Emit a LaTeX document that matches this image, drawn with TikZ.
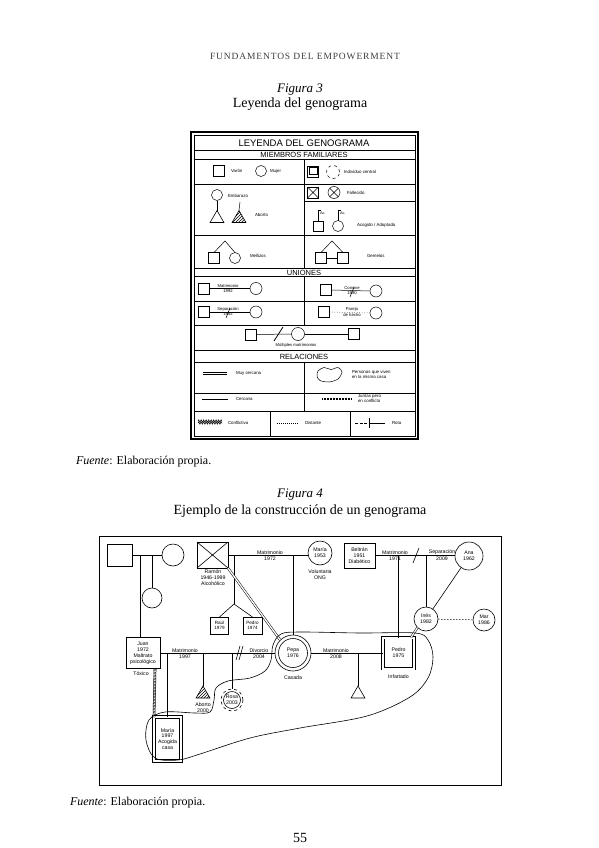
\documentclass[tikz,border=0pt]{standalone}
\usepackage{fontspec}
\setmainfont{Liberation Serif}
\setsansfont{Liberation Sans}
\usetikzlibrary{patterns,shapes.geometric,decorations.pathmorphing}
\begin{document}
\begin{tikzpicture}[x=1pt,y=-1pt,
  every node/.style={inner sep=0pt, outer sep=0pt},
  ln/.style={line width=0.5pt},
  lt/.style={font=\sffamily\fontsize{4.4}{5}\selectfont, align=left, anchor=west},
  lh/.style={font=\sffamily\fontsize{7.5}{8}\selectfont},
  sq/.style={draw, line width=0.5pt, minimum size=11pt},
  ci/.style={draw, circle, line width=0.5pt, minimum size=11pt},
  ft/.style={font=\sffamily\fontsize{5.2}{5.9}\selectfont, align=center},
  fl/.style={line width=0.6pt},
  fsq/.style={draw, line width=0.6pt, font=\sffamily\fontsize{5.2}{5.9}\selectfont, align=center},
  fci/.style={draw, circle, line width=0.6pt, font=\sffamily\fontsize{5.2}{5.9}\selectfont, align=center},
  tri/.style={draw, regular polygon, regular polygon sides=3, line width=0.6pt, minimum size=16pt},
  serif/.style={font=\fontsize{14}{16}\selectfont},
]
\useasboundingbox (0,0) rectangle (599,848);
\fill[white] (0,0) rectangle (599,848);

% ---------- page header and titles ----------
\node[font=\fontsize{9.5}{10}\selectfont\addfontfeature{LetterSpace=9}, text=black!75] (hdr) at (305,56) {FUNDAMENTOS DEL EMPOWERMENT};
\node[font=\fontsize{13}{14}\selectfont\itshape] (f3a) at (300,90) {Figura 3};
\node[serif] (f3b) at (300,104) {Leyenda del genograma};

% ---------- legend ----------
\draw[line width=1.1pt] (191,132) rectangle (418,439);
\draw[ln] (194,135) rectangle (415,436);
\node[font=\sffamily\fontsize{9.5}{10}\selectfont] (lgt) at (304,143) {LEYENDA DEL GENOGRAMA};
\draw[ln] (194,150) -- (415,150);
\node[lh] (hmf) at (304,155) {MIEMBROS FAMILIARES};
\draw[ln] (194,159.5) -- (415,159.5);
\draw[ln] (194,184) -- (415,184);
\draw[ln] (304,201) -- (415,201);
\draw[ln] (194,235) -- (415,235);
\draw[ln] (194,268) -- (415,268);
\node[lh] (hun) at (304,272.5) {UNIONES};
\draw[ln] (194,276.5) -- (415,276.5);
\draw[ln] (194,301) -- (415,301);
\draw[ln] (194,325) -- (415,325);
\draw[ln] (194,350) -- (415,350);
\node[lh] (hre) at (304,356.5) {RELACIONES};
\draw[ln] (194,362) -- (415,362);
\draw[ln] (194,393) -- (415,393);
\draw[ln] (194,411) -- (415,411);
\draw[ln] (304,159.5) -- (304,268);
\draw[ln] (304,276.5) -- (304,325);
\draw[ln] (304,362) -- (304,411);
\draw[ln] (270,411) -- (270,436);
\draw[ln] (350,411) -- (350,436);

% row: varon / mujer / individuo central
\node[sq] (lvar) at (219,171) {};
\node[lt] (tvar) at (231,171) {Varón};
\node[ci] (lmuj) at (261,171) {};
\node[lt] (tmuj) at (270,171) {Mujer};
\node[sq] (lind) at (313,171.5) {};
\node[draw, line width=0.5pt, minimum width=7.5pt, minimum height=7pt] (lindi) at (313,170.5) {};
\node[ci, dashed, minimum size=13pt] (lindc) at (333,172) {};
\node[lt] (tind) at (344,172) {Individuo central};

% embarazo / aborto
\node[ci] (lemb) at (217,195) {};
\node[tri, minimum size=16pt] (lembt) at (217,218.5) {};
\draw[ln] (lemb.south) -- (lembt.corner 1);
\node[lt] (temb) at (228,196) {Embarazo};
\node[tri, minimum size=16pt, pattern=north east lines] (labo) at (239,218.5) {};
\coordinate (laboc) at (240,202);
\draw[ln] (labo.corner 1) -- (laboc);
\node[lt] (tabo) at (255,215) {Aborto};

% fallecido
\node[sq] (lfal) at (313,192.5) {};
\draw[ln] (lfal.north west) -- (lfal.south east) (lfal.north east) -- (lfal.south west);
\node[ci, minimum size=12pt] (lfalc) at (334,192.5) {};
\draw[ln] (lfalc.north west) -- (lfalc.south east) (lfalc.north east) -- (lfalc.south west);
\node[lt] (tfal) at (347,192.5) {Fallecido};

% adopcion
\node[sq, minimum size=10.5pt] (lado) at (318,226) {};
\node[ci] (ladoc) at (338,226) {};
\coordinate (lado1) at (318,210);
\coordinate (lado2) at (338,210);
\draw[ln] (lado.north) -- (lado1) -- ++(3,0);
\draw[ln] (ladoc.north) -- (lado2) -- ++(3,0);
\node[lt, font=\sffamily\fontsize{3.8}{4}\selectfont] (tac1) at (320,213.5) {Ac.};
\node[lt, font=\sffamily\fontsize{3.8}{4}\selectfont] (tac2) at (340,213.5) {Ac.};
\node[lt] (tado) at (357,225) {Acogido / Adoptado};

% mellizos
\node[sq] (lmel1) at (214,258) {};
\node[ci] (lmel2) at (235,258) {};
\coordinate (lmela) at (225,241);
\draw[ln] (lmel1.north) -- (lmela) -- (lmel2.north);
\node[lt] (tmel) at (250,256) {Mellizos};

% gemelos
\node[sq] (lgem1) at (321,258) {};
\node[sq] (lgem2) at (343,258) {};
\coordinate (lgema) at (332,241);
\draw[ln] (lgem1.north) -- (lgema) -- (lgem2.north);
\draw[ln] (lgem1.east) -- (lgem2.west);
\node[lt] (tgem) at (367,256) {Gemelos};

% matrimonio
\node[sq] (lmat1) at (204,288.5) {};
\node[ci, minimum size=12pt] (lmat2) at (256,288.5) {};
\draw[ln] (lmat1.east) -- (lmat2.west);
\node[font=\sffamily\fontsize{4.2}{5}\selectfont, anchor=south] (tmat1) at (228,288) {Matrimonio};
\node[font=\sffamily\fontsize{4.2}{5}\selectfont, anchor=north] (tmat2) at (228,289.5) {1992};

% convive
\node[sq] (lcoh1) at (326,290) {};
\node[ci, minimum size=12pt] (lcoh2) at (376,291) {};
\draw[ln] (lcoh1.east) -- (lcoh2.west);
\node[font=\sffamily\fontsize{4.2}{5}\selectfont, anchor=south] (tcoh1) at (352,289.5) {Convive};
\node[font=\sffamily\fontsize{4.2}{5}\selectfont, anchor=north] (tcoh2) at (352,291.5) {1990};
\coordinate (lcohs1) at (350,297);
\coordinate (lcohs2) at (354,287);
\draw[ln] (lcohs1) -- (lcohs2);

% separacion
\node[sq] (lsep1) at (204,312) {};
\node[ci, minimum size=12pt] (lsep2) at (256,312) {};
\draw[ln] (lsep1.east) -- (lsep2.west);
\node[font=\sffamily\fontsize{4.2}{5}\selectfont, anchor=south] (tsep1) at (228,311.5) {Separación};
\node[font=\sffamily\fontsize{4.2}{5}\selectfont, anchor=north] (tsep2) at (228,313) {1992};
\coordinate (lseps1) at (226,318);
\coordinate (lseps2) at (230,308);
\draw[ln] (lseps1) -- (lseps2);

% pareja de hecho
\node[sq] (lpar1) at (324,312) {};
\node[ci, minimum size=12pt] (lpar2) at (376,313) {};
\draw[ln, dotted] (lpar1.east) -- (lpar2.west);
\node[font=\sffamily\fontsize{4.2}{5}\selectfont, anchor=south] (tpar1) at (352,311.5) {Pareja};
\node[font=\sffamily\fontsize{4.2}{5}\selectfont, anchor=north] (tpar2) at (352,313.5) {de hecho};

% multiples matrimonios
\node[sq] (lmul1) at (251,334.5) {};
\node[ci, minimum size=13pt] (lmul2) at (298,334) {};
\node[sq] (lmul3) at (354,334) {};
\draw[ln] (lmul1.east) -- (lmul2.west);
\draw[ln] (lmul2.east) -- (lmul3.west);
\coordinate (lmuls1) at (274,341);
\coordinate (lmuls2) at (283,327);
\draw[line width=0.8pt] (lmuls1) -- (lmuls2);
\node[font=\sffamily\fontsize{4.2}{5}\selectfont] (tmul) at (296,345) {Múltiples matrimonios};

% relaciones
\coordinate (lmc1) at (203,372);
\coordinate (lmc2) at (227,372);
\draw[ln] (lmc1) -- (lmc2);
\draw[ln] ([yshift=-2.2pt]lmc1) -- ([yshift=-2.2pt]lmc2);
\node[lt] (tmc) at (236,373.5) {Muy cercana};
\draw[ln] plot[smooth cycle] coordinates {(318,371) (324,367.5) (331,369.5) (338,367.5) (342,372) (338,379) (329,382) (320,380.5) (317,376)};
\node[lt] (tviv) at (352,374) {Personas que viven\\en la misma casa};

\coordinate (lce1) at (202,399);
\coordinate (lce2) at (228,399);
\draw[ln] (lce1) -- (lce2);
\node[lt] (tce) at (236,399) {Cercana};
\coordinate (lju1) at (322,399);
\coordinate (lju2) at (352,399);
\draw[ln, double, double distance=1.6pt] (lju1) -- (lju2);
\draw[line width=2.1pt, dash pattern=on 0.5pt off 1pt] (lju1) -- (lju2);
\node[lt] (tju) at (358,399) {Juntas pero\\en conflicto};

\coordinate (lco1) at (198,423);
\coordinate (lco2) at (222,423);
\draw[ln, decorate, decoration={zigzag, segment length=2.5pt, amplitude=1.2pt}] (lco1) -- (lco2);
\draw[ln, decorate, decoration={zigzag, segment length=2.5pt, amplitude=1.2pt}] ([yshift=2pt]lco1) -- ([yshift=2pt]lco2);
\node[lt] (tco) at (228,423) {Conflictiva};
\coordinate (ldi1) at (277,423);
\coordinate (ldi2) at (298,423);
\draw[ln, dash pattern=on 1pt off 1pt] (ldi1) -- (ldi2);
\node[lt] (tdi) at (305,423) {Distante};
\coordinate (lro1) at (355,423);
\coordinate (lro2) at (369,423);
\coordinate (lro3) at (385,423);
\draw[ln, dash pattern=on 3pt off 1.5pt] (lro1) -- (lro2);
\draw[ln] (lro2) -- (lro3);
\draw[ln] ([yshift=5pt]lro2) -- ([yshift=-5pt]lro2);
\node[lt] (tro) at (392,423) {Rota};

\node[font=\fontsize{12}{14}\selectfont, anchor=west] (fu3) at (76,462) {\textit{Fuente}: Elaboración propia.};

% ---------- figure 4 ----------
\node[font=\fontsize{13}{14}\selectfont\itshape] (f4a) at (300,495) {Figura 4};
\node[serif] (f4b) at (300,511) {Ejemplo de la construcción de un genograma};
\draw[line width=0.8pt] (99,536) rectangle (501,785);

% grandparents of Juan
\node[fsq, minimum width=25pt, minimum height=22pt] (gp) at (119.5,555) {};
\node[fci, minimum size=22pt] (gm) at (173,555) {};
\draw[fl] (gp.east) -- (gm.west);
\coordinate (gpc1) at (140,555);
\coordinate (gpc2) at (152,555);
\node[fci, minimum size=20pt] (hija) at (152,598) {};
\draw[fl] (gpc2) -- (hija.north);
\node[fsq, minimum width=34pt, minimum height=31pt] (juan) at (143,653) {Juan\\1972\\Maltrato\\psicológico};
\draw[fl] (gpc1) -- (gpc1 |- juan.north);
\node[ft] (juanl) at (141,673.5) {Tóxico};

% Ramon and Maria
\node[fsq, minimum width=31pt, minimum height=26pt] (ramon) at (212.5,555) {};
\draw[fl] (ramon.north west) -- (ramon.south east) (ramon.north east) -- (ramon.south west);
\node[ft] (ramonl) at (213,578) {Ramón\\1946-1999\\Alcohólico};
\node[fci, minimum size=24pt] (maria) at (320,553) {María\\1953};
\node[ft] (marial) at (320,575) {Voluntaria\\ONG};
\draw[fl] (ramon.east) -- (ramon.east -| maria.west);
\node[ft, anchor=south] (rm1) at (270,554.5) {Matrimonio};
\node[ft, anchor=north] (rm2) at (270,556.5) {1972};

% Raul / Pedro
\node[fsq, minimum width=18pt, minimum height=17pt, font=\sffamily\fontsize{4.6}{5.4}\selectfont] (raul) at (219.5,625.5) {Raúl\\1979};
\node[fsq, minimum width=19pt, minimum height=17pt, font=\sffamily\fontsize{4.6}{5.4}\selectfont] (pedroa) at (252.5,625.5) {Pedro\\1974};
\coordinate (fork) at (234,604);
\draw[fl] (fork |- ramon.east) -- (fork);
\draw[fl] (raul.north) -- (fork) -- (pedroa.north);

% Pepa
\node[fci, minimum size=36pt] (pepa) at (293,653) {Pepa\\1976};
\draw[fl] (pepa.center) circle[radius=14.5pt];
\node[ft] (pepal) at (293,677.5) {Casada};
\draw[fl] (pepa.north |- ramon.east) -- (pepa.north);
\draw[line width=0.5pt, double, double distance=1.3pt] (ramon.south east) -- (pepa.north west);

% Juan - Pepa
\draw[fl] (juan.east) -- (pepa.west);
\node[ft, anchor=south] (jp1) at (185,652.5) {Matrimonio};
\node[ft, anchor=north] (jp2) at (185,654.5) {1997};
\coordinate (dv1) at (236,660);
\coordinate (dv2) at (240,646);
\draw[fl] (dv1) -- (dv2);
\draw[fl] ([xshift=3pt]dv1) -- ([xshift=3pt]dv2);
\node[ft, anchor=south] (dj1) at (259,652.5) {Divorcio};
\node[ft, anchor=north] (dj2) at (259,654.5) {2004};

\node[fsq, minimum width=27pt, minimum height=44pt, double, double distance=2pt] (mariaj) at (167.5,739) {María\\1997\\Acogida\\casa};
\coordinate (jpc1) at (167.5,653);
\draw[fl] (jpc1) -- (mariaj.north);
\node[tri, pattern=north east lines] (abo) at (203,694) {};
\coordinate (jpc2) at (203,653);
\draw[fl] (jpc2) -- (abo.corner 1);
\node[ft] (abol) at (203,707.5) {Aborto\\2000};
\node[fci, minimum size=22pt, dashed] (rosa) at (232,700) {Rosa\\2003};
\draw[fl] (rosa.center) circle[radius=8.5pt];
\coordinate (jpc3) at (232,653);
\draw[fl] (jpc3) -- (rosa.north);

% conflict Juan - Maria
\coordinate (jconf) at (155,669);
\draw[line width=0.5pt, double, double distance=1.6pt] (jconf) -- (mariaj.north west);
\draw[line width=2.1pt, dash pattern=on 0.5pt off 1pt] (jconf) -- (mariaj.north west);

% Pepa - Pedro
\node[fsq, minimum size=31pt, double, double distance=2pt] (pedrob) at (398.5,653) {Pedro\\1975};
\node[ft] (pedrobl) at (398.5,677) {Infartado};
\draw[fl] (pepa.east) -- (pedrob.west);
\node[ft, anchor=south] (pp1) at (336,652.5) {Matrimonio};
\node[ft, anchor=north] (pp2) at (336,654.5) {2008};
\node[tri] (abo2) at (358,694) {};
\coordinate (ppc) at (358,653);
\draw[fl] (ppc) -- (abo2.corner 1);

% Beltran - Ana
\node[fsq, minimum width=31pt, minimum height=25pt] (beltran) at (359.5,555.5) {Beltrán\\1951\\Diabético};
\node[fci, minimum size=28pt] (ana) at (469,556) {Ana\\1962};
\draw[fl] (beltran.east) -- (beltran.east -| ana.west);
\node[ft, anchor=south] (ba1) at (395,555) {Matrimonio};
\node[ft, anchor=north] (ba2) at (395,557) {1971};
\coordinate (sp1) at (413,563);
\coordinate (sp2) at (419,548);
\draw[fl] (sp1) -- (sp2);
\node[ft, anchor=south] (ba3) at (442,555) {Separación};
\node[ft, anchor=north] (ba4) at (442,557) {2009};
\coordinate (bac1) at (398.5,555.5);
\draw[fl] (bac1) -- (pedrob.north);
\node[fci, minimum size=24pt] (ines) at (426,619) {Inés\\1982};
\coordinate (bac2) at (426,555.5);
\draw[fl] (bac2) -- (ines.north);
\draw[fl] (ana) -- (ines);
\draw[line width=0.5pt, double, double distance=1.2pt] (ines.south west) -- ([xshift=-3pt]pedrob.north east);
\node[fci, minimum size=22pt] (mar) at (484,620) {Mar\\1986};
\draw[line width=0.5pt, dash pattern=on 1.5pt off 1.5pt] (ines) -- (mar);

% household enclosure
\draw[fl] plot[smooth cycle, tension=0.55] coordinates {(273,645) (281,634) (300,632) (360,633) (415,633) (428,640) (433,657) (428,678) (410,697) (367,716) (300,728) (250,738) (200,754) (178,760) (155,758) (146,740) (149,720) (165,712) (195,713) (210,712) (214,700) (216,688) (228,681) (250,678) (265,671) (271,660)};

\node[font=\fontsize{12}{14}\selectfont, anchor=west] (fu4) at (70,803) {\textit{Fuente}: Elaboración propia.};
\node[font=\fontsize{14}{16}\selectfont] (pg) at (300,838) {55};
\end{tikzpicture}
\end{document}
